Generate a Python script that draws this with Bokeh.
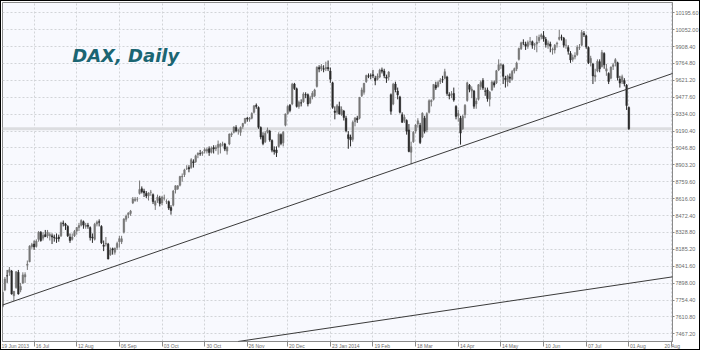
from bokeh.plotting import figure
from bokeh.models import (FixedTicker, PrintfTickFormatter, Label,
                          ColumnDataSource, Slope, Span, Range1d)
from bokeh.embed import file_html
from bokeh.resources import INLINE

# DAX daily bars, 26 Jun 2013 .. 01 Aug 2014 (bar index 0 .. 279)
opens = [7700,7840,7960,7990,8000,7790,7860,7990,7840,7900,
 7950,8050,8080,8210,8230,8210,8270,8330,8280,8310,
 8300,8300,8300,8290,8280,8290,8300,8410,8400,8380,
 8290,8270,8300,8340,8370,8390,8420,8380,8390,8370,
 8290,8270,8400,8420,8380,8220,8230,8230,8140,8190,
 8160,8200,8250,8250,8330,8440,8480,8490,8580,8600,
 8610,8660,8700,8680,8660,8640,8670,8650,8560,8600,
 8620,8580,8620,8590,8590,8540,8560,8690,8700,8730,
 8800,8820,8870,8880,8880,8930,8930,8990,9000,9000,
 9020,9020,9040,9010,9050,9040,9050,9060,9080,9080,
 9020,9080,9160,9180,9220,9190,9180,9230,9260,9300,
 9290,9300,9350,9410,9390,9220,9150,9100,9180,9190,
 9110,9030,9030,9060,9160,9090,9240,9340,9410,9420,
 9590,9550,9400,9430,9440,9500,9500,9430,9480,9490,
 9570,9730,9720,9720,9720,9730,9700,9600,9360,9350,
 9400,9330,9360,9300,9160,9140,9120,9270,9300,9300,
 9490,9520,9610,9660,9660,9670,9640,9630,9650,9710,
 9700,9650,9650,9500,9420,9590,9530,9480,9330,9280,
 9280,9200,9010,9100,9190,9250,9240,9140,9300,9200,
 9350,9440,9460,9580,9570,9610,9630,9640,9650,9500,
 9500,9510,9400,9320,9300,9210,9330,9450,9580,9530,
 9530,9420,9460,9570,9620,9530,9540,9460,9540,9600,
 9600,9710,9750,9750,9640,9610,9650,9630,9700,9720,
 9800,9890,9940,9930,9910,9950,9950,9920,9930,9960,
 9990,10000,9970,9920,9930,9880,9880,9930,9970,9990,
 9980,9920,9900,9850,9800,9820,9840,9900,9920,10020,
 10000,9900,9770,9760,9650,9700,9780,9740,9850,9700,
 9680,9640,9740,9770,9770,9630,9610,9620,9580,9390]

highs = [7840,7950,8010,8035,8010,7830,8000,8010,7900,7990,
 7990,8090,8220,8240,8260,8270,8340,8340,8330,8350,
 8350,8330,8320,8310,8320,8310,8420,8430,8410,8390,
 8320,8320,8350,8375,8410,8440,8430,8410,8410,8380,
 8320,8410,8430,8440,8390,8260,8290,8240,8200,8200,
 8200,8250,8300,8300,8450,8480,8500,8520,8630,8630,
 8630,8770,8720,8700,8680,8670,8690,8660,8600,8650,
 8640,8640,8650,8610,8600,8560,8690,8730,8730,8810,
 8830,8870,8900,8900,8960,8950,8990,9010,9030,9020,
 9050,9050,9060,9060,9070,9070,9110,9090,9100,9090,
 9060,9170,9180,9230,9240,9210,9230,9260,9300,9310,
 9310,9350,9410,9425,9400,9230,9180,9190,9220,9200,
 9120,9060,9060,9180,9170,9190,9340,9410,9420,9600,
 9600,9560,9450,9460,9520,9520,9510,9490,9530,9550,
 9740,9750,9760,9750,9780,9790,9730,9610,9400,9420,
 9440,9400,9370,9320,9190,9160,9280,9310,9320,9480,
 9560,9600,9670,9680,9680,9710,9660,9680,9720,9730,
 9720,9670,9700,9510,9600,9610,9560,9490,9350,9330,
 9290,9250,9100,9190,9250,9300,9260,9350,9320,9350,
 9460,9460,9590,9610,9620,9640,9660,9720,9660,9520,
 9530,9560,9410,9370,9320,9330,9420,9610,9590,9570,
 9540,9470,9590,9620,9640,9560,9560,9530,9620,9620,
 9710,9800,9770,9760,9660,9670,9680,9710,9730,9780,
 9900,9950,9970,9950,9960,9990,9960,9940,10000,10010,
 10020,10040,9990,9960,9950,9900,9930,9950,10050,10010,
 9990,9970,9920,9870,9840,9860,9920,9930,10050,10040,
 10010,9910,9830,9770,9720,9800,9800,9880,9860,9760,
 9690,9740,9770,9810,9780,9660,9670,9640,9590,9400]

lows = [7690,7830,7900,7960,7800,7745,7850,7800,7820,7890,
 7900,8010,8075,8190,8180,8200,8250,8250,8260,8290,
 8280,8260,8230,8250,8240,8250,8290,8380,8350,8290,
 8240,8260,8290,8310,8340,8380,8360,8360,8360,8260,
 8240,8260,8380,8380,8230,8170,8210,8100,8130,8140,
 8140,8180,8200,8230,8320,8420,8450,8470,8570,8590,
 8590,8650,8660,8630,8620,8600,8640,8570,8520,8580,
 8550,8560,8600,8570,8520,8480,8550,8660,8690,8720,
 8760,8800,8860,8840,8870,8880,8920,8960,8980,8980,
 9000,9000,8980,9000,9000,9020,8990,9000,9060,9020,
 8990,9070,9140,9170,9180,9160,9150,9210,9250,9270,
 9270,9290,9340,9380,9210,9120,9070,9090,9170,9100,
 9010,8990,8970,9050,9070,9060,9230,9330,9350,9410,
 9540,9390,9380,9400,9430,9470,9400,9420,9460,9480,
 9560,9690,9700,9690,9700,9700,9600,9380,9290,9330,
 9330,9320,9280,9180,9040,9060,9100,9230,9260,9290,
 9480,9500,9600,9640,9630,9640,9580,9620,9640,9680,
 9640,9600,9620,9330,9410,9520,9460,9340,9260,9260,
 9160,9010,8910,9090,9170,9220,9080,9130,9170,9180,
 9340,9400,9450,9540,9560,9590,9600,9630,9490,9460,
 9470,9440,9290,9270,9075,9200,9300,9440,9520,9470,
 9380,9380,9450,9540,9540,9490,9440,9400,9530,9560,
 9590,9700,9720,9590,9560,9570,9600,9620,9680,9700,
 9790,9880,9920,9880,9890,9920,9890,9880,9860,9940,
 9970,9950,9900,9890,9860,9840,9850,9900,9960,9960,
 9900,9890,9840,9770,9780,9800,9830,9880,9910,9990,
 9890,9760,9740,9590,9610,9690,9690,9730,9720,9660,
 9590,9630,9710,9740,9620,9560,9590,9570,9370,9200]

closes = [7820,7933,7959,8011,7806,7829,7994,7806,7869,7968,
 7970,8059,8212,8225,8205,8255,8331,8260,8305,8292,
 8331,8312,8290,8284,8276,8276,8410,8403,8386,8300,
 8260,8289,8337,8370,8387,8431,8391,8391,8381,8285,
 8281,8398,8416,8415,8242,8211,8236,8103,8180,8180,
 8195,8235,8276,8275,8443,8468,8495,8510,8613,8611,
 8610,8694,8675,8665,8639,8665,8672,8591,8594,8630,
 8575,8627,8622,8591,8536,8516,8680,8725,8725,8804,
 8806,8860,8870,8869,8947,8920,8980,9001,8997,9010,
 9033,9033,9009,9044,9038,9050,9078,9079,9080,9037,
 9054,9165,9168,9225,9193,9193,9220,9255,9299,9292,
 9300,9340,9405,9400,9223,9140,9084,9172,9200,9115,
 9028,9017,9006,9164,9085,9181,9336,9400,9366,9589,
 9552,9400,9436,9428,9506,9497,9421,9473,9511,9540,
 9733,9717,9742,9716,9730,9720,9631,9392,9349,9406,
 9336,9373,9306,9193,9127,9116,9265,9301,9285,9478,
 9540,9596,9662,9656,9659,9660,9618,9657,9708,9699,
 9661,9639,9692,9359,9589,9542,9498,9350,9265,9307,
 9189,9017,9056,9180,9242,9277,9093,9342,9188,9338,
 9448,9451,9587,9556,9603,9623,9628,9695,9510,9490,
 9507,9454,9315,9339,9173,9317,9409,9600,9545,9548,
 9401,9446,9584,9603,9556,9529,9467,9521,9607,9581,
 9703,9755,9754,9656,9629,9659,9639,9697,9721,9768,
 9892,9940,9939,9912,9943,9950,9920,9926,9947,9987,
 10008,9975,9925,9939,9912,9883,9920,9937,9987,9987,
 9920,9920,9868,9795,9815,9833,9902,9903,10029,10009,
 9906,9772,9808,9659,9666,9783,9719,9859,9753,9720,
 9612,9734,9753,9797,9644,9598,9653,9593,9407,9210]

# time scale labels (bar index of each labelled date)
x_tick_pos = [-5, 14, 33, 52, 71, 90, 109, 127, 146, 165, 184, 203, 222, 241, 260, 279, 298]
x_tick_labels = ["19 Jun 2013", "16 Jul", "12 Aug", "06 Sep", "03 Oct", "30 Oct", "26 Nov",
                 "20 Dec", "23 Jan 2014", "19 Feb", "18 Mar", "14 Apr", "14 May",
                 "10 Jun", "07 Jul", "01 Aug", "20 Aug"]

# price scale labels
y_ticks = [7467.20, 7610.80, 7754.40, 7898.00, 8041.60, 8185.20, 8328.80, 8472.40,
           8616.00, 8759.60, 8903.20, 9046.80, 9190.40, 9334.00, 9477.60, 9621.20,
           9764.80, 9908.40, 10052.00, 10195.60]

# trend lines: anchor points (bar index, price)
trend1_x = [5, 182]
trend1_y = [7745, 8912]
trend2_x = [106, 298]
trend2_y = [7405, 7950]

title_text = "DAX, Daily"

X0, X1 = -0.07, 298.45
Y0, Y1 = 7401.8, 10283.1
FRAME_W = 673
px_per_bar = FRAME_W / (X1 - X0)
XFONT = 5.0
# approximate glyph widths (em) of Liberation Sans, used to place each label just right of its tick
def text_w(s):
    w = 0.0
    for ch in s:
        if ch.isdigit():
            w += 0.556
        elif ch == " ":
            w += 0.278
        elif ch.isupper():
            w += 0.62
        elif ch in "il":
            w += 0.222
        else:
            w += 0.54
    return w * XFONT

label_centers = [min(t + (1.5 + text_w(s) / 2) / px_per_bar, X1 - 0.05)
                 for t, s in zip(x_tick_pos, x_tick_labels)]

n = len(closes)
idx = list(range(n))
bull = [c >= o for o, c in zip(opens, closes)]
src = ColumnDataSource(dict(
    x=idx, open=opens, high=highs, low=lows, close=closes,
    top=[max(o, c) for o, c in zip(opens, closes)],
    bottom=[min(o, c) for o, c in zip(opens, closes)],
    color=["#777777" if b else "#2a2a2a" for b in bull],
))

p = figure(width=700, height=350, output_backend="svg", toolbar_location=None,
           x_range=Range1d(X0, X1), y_range=Range1d(Y0, Y1),
           y_axis_location="right",
           min_border_left=1, min_border_top=1, min_border_right=26, min_border_bottom=8)
p.styles = {"border": "1px solid #000000"}
p.background_fill_color = "#f8f9fe"
p.border_fill_color = "#ffffff"
p.outline_line_color = "#8a8a8a"

# x axis: labels at their centres (left-aligned look), tick marks as minor ticks at the dates
xa = p.xaxis[0]
xa.ticker = FixedTicker(ticks=label_centers, minor_ticks=x_tick_pos)
xa.major_label_overrides = {c: s for c, s in zip(label_centers, x_tick_labels)}
xa.major_label_text_font = "Liberation Sans"
xa.major_label_text_font_size = f"{XFONT}px"
xa.major_label_text_color = "#6a6a6a"
xa.major_label_standoff = -4
xa.major_tick_out = 0
xa.major_tick_in = 0
xa.minor_tick_out = 5
xa.minor_tick_in = 0
xa.minor_tick_line_color = "#8a8a8a"
xa.axis_line_color = "#8a8a8a"

# y axis (right)
ya = p.yaxis[0]
ya.ticker = FixedTicker(ticks=y_ticks, minor_ticks=[])
ya.formatter = PrintfTickFormatter(format="%.2f")
ya.major_label_text_font = "Liberation Sans"
ya.major_label_text_font_size = "5.5px"
ya.major_label_text_color = "#6a6a6a"
ya.major_label_standoff = 1
ya.major_tick_out = 2
ya.major_tick_in = 0
ya.major_tick_line_color = "#8a8a8a"
ya.axis_line_color = "#8a8a8a"

# grid
p.xgrid.ticker = FixedTicker(ticks=x_tick_pos, minor_ticks=[])
p.ygrid.ticker = FixedTicker(ticks=y_ticks, minor_ticks=[])
for g in (p.xgrid, p.ygrid):
    g.grid_line_color = "#d2d4d8"
    g.grid_line_dash = "2 2"
    g.grid_line_width = 1

# current price line
p.add_layout(Span(location=closes[-1], dimension="width", line_color="#dcdde0",
                  line_width=3, level="underlay"))

# trend lines
g1 = (trend1_y[1] - trend1_y[0]) / (trend1_x[1] - trend1_x[0])
p.add_layout(Slope(gradient=g1, y_intercept=trend1_y[0] - g1 * trend1_x[0],
                   line_color="#3a3a3a", line_width=1))
g2 = (trend2_y[1] - trend2_y[0]) / (trend2_x[1] - trend2_x[0])
p.add_layout(Slope(gradient=g2, y_intercept=trend2_y[0] - g2 * trend2_x[0],
                   line_color="#3a3a3a", line_width=1))

# candles
p.segment(x0="x", y0="low", x1="x", y1="high", source=src, line_color="color", line_width=1)
p.vbar(x="x", width=0.7, top="top", bottom="bottom", source=src,
       fill_color="color", line_color="color", line_width=0.5)

# title, anchored in the upper-left part of the chart
title_x = X0 + 70 / px_per_bar
title_y = Y1 - (Y1 - Y0) * 53 / 339
p.add_layout(Label(x=title_x, y=title_y, text=title_text,
                   text_font="DejaVu Sans", text_font_size="18px",
                   text_font_style="bold italic", text_color="#1b6572",
                   text_baseline="alphabetic"))

open("out.html", "w").write(file_html(p, INLINE))
